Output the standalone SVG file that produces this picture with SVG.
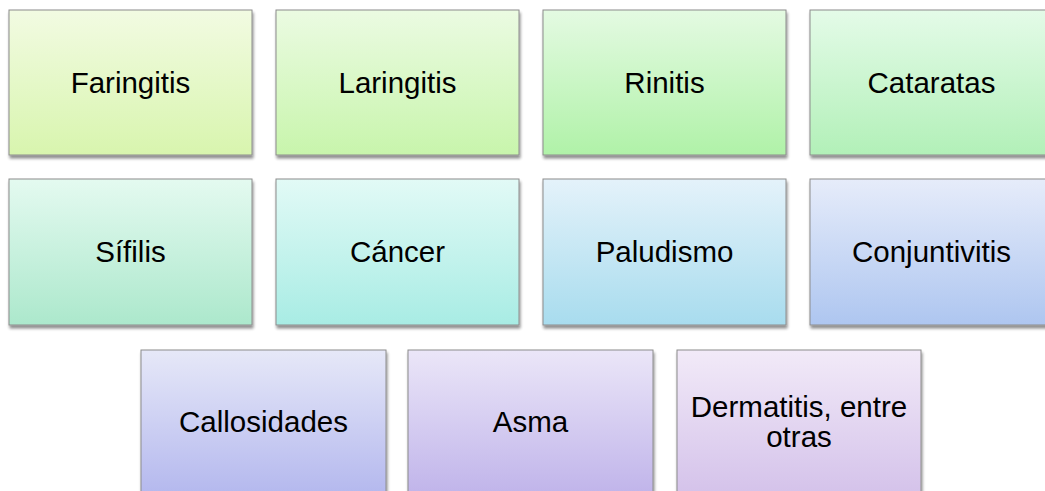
<svg xmlns="http://www.w3.org/2000/svg" width="1045" height="491" viewBox="0 0 1045 491">
<style>
.box{stroke:#8c8c8c;stroke-width:1;filter:url(#sh)}
.lbl{font-family:"Liberation Sans",Arial,sans-serif;font-size:29.5px;fill:#000;text-anchor:middle}
</style>
<defs>
<filter id="sh" x="-5%" y="-5%" width="112%" height="115%">
<feGaussianBlur in="SourceAlpha" stdDeviation="1.6"/>
<feOffset dx="1" dy="2.5" result="b"/>
<feComponentTransfer><feFuncA type="linear" slope="0.45"/></feComponentTransfer>
<feMerge><feMergeNode/><feMergeNode in="SourceGraphic"/></feMerge>
</filter>
<linearGradient id="g1" x1="0" y1="0" x2="0" y2="1"><stop offset="0" stop-color="#f2fbe2"/><stop offset="1" stop-color="#d8f5ae"/></linearGradient>
<linearGradient id="g2" x1="0" y1="0" x2="0" y2="1"><stop offset="0" stop-color="#ebfbe2"/><stop offset="1" stop-color="#c8f5ac"/></linearGradient>
<linearGradient id="g3" x1="0" y1="0" x2="0" y2="1"><stop offset="0" stop-color="#e4fae2"/><stop offset="1" stop-color="#b0f2a8"/></linearGradient>
<linearGradient id="g4" x1="0" y1="0" x2="0" y2="1"><stop offset="0" stop-color="#e4fbe8"/><stop offset="1" stop-color="#b2f0b8"/></linearGradient>
<linearGradient id="g5" x1="0" y1="0" x2="0" y2="1"><stop offset="0" stop-color="#e4faf0"/><stop offset="1" stop-color="#ace8cc"/></linearGradient>
<linearGradient id="g6" x1="0" y1="0" x2="0" y2="1"><stop offset="0" stop-color="#e2faf6"/><stop offset="1" stop-color="#a8ece4"/></linearGradient>
<linearGradient id="g7" x1="0" y1="0" x2="0" y2="1"><stop offset="0" stop-color="#e4f2fa"/><stop offset="1" stop-color="#a8dcee"/></linearGradient>
<linearGradient id="g8" x1="0" y1="0" x2="0" y2="1"><stop offset="0" stop-color="#e6ecfa"/><stop offset="1" stop-color="#aec6f0"/></linearGradient>
<linearGradient id="g9" x1="0" y1="0" x2="0" y2="1"><stop offset="0" stop-color="#e6e8f8"/><stop offset="1" stop-color="#b4b8ee"/></linearGradient>
<linearGradient id="g10" x1="0" y1="0" x2="0" y2="1"><stop offset="0" stop-color="#ebe6f8"/><stop offset="1" stop-color="#c0b4ea"/></linearGradient>
<linearGradient id="g11" x1="0" y1="0" x2="0" y2="1"><stop offset="0" stop-color="#f2eaf8"/><stop offset="1" stop-color="#d4c2ea"/></linearGradient>
</defs>
<rect width="1045" height="491" fill="#ffffff"/>
<g id="connectors"/>
<g id="n1"><rect class="box" x="9" y="10" width="243" height="145" fill="url(#g1)"/><text class="lbl" x="130.5" y="93">Faringitis</text></g>
<g id="n2"><rect class="box" x="276" y="10" width="243" height="145" fill="url(#g2)"/><text class="lbl" x="397.5" y="93">Laringitis</text></g>
<g id="n3"><rect class="box" x="543" y="10" width="243" height="145" fill="url(#g3)"/><text class="lbl" x="664.5" y="93">Rinitis</text></g>
<g id="n4"><rect class="box" x="810" y="10" width="243" height="145" fill="url(#g4)"/><text class="lbl" x="931.5" y="93">Cataratas</text></g>
<g id="n5"><rect class="box" x="9" y="179" width="243" height="146" fill="url(#g5)"/><text class="lbl" x="130.5" y="262">Sífilis</text></g>
<g id="n6"><rect class="box" x="276" y="179" width="243" height="146" fill="url(#g6)"/><text class="lbl" x="397.5" y="262">Cáncer</text></g>
<g id="n7"><rect class="box" x="543" y="179" width="243" height="146" fill="url(#g7)"/><text class="lbl" x="664.5" y="262">Paludismo</text></g>
<g id="n8"><rect class="box" x="810" y="179" width="243" height="146" fill="url(#g8)"/><text class="lbl" x="931.5" y="262">Conjuntivitis</text></g>
<g id="n9"><rect class="box" x="141" y="350" width="245" height="145" fill="url(#g9)"/><text class="lbl" x="263.5" y="432">Callosidades</text></g>
<g id="n10"><rect class="box" x="408" y="350" width="245" height="145" fill="url(#g10)"/><text class="lbl" x="530.5" y="432">Asma</text></g>
<g id="n11"><rect class="box" x="677" y="350" width="244" height="145" fill="url(#g11)"/><text class="lbl" x="799" y="417">Dermatitis, entre</text><text class="lbl" x="799" y="447">otras</text></g>
</svg>
